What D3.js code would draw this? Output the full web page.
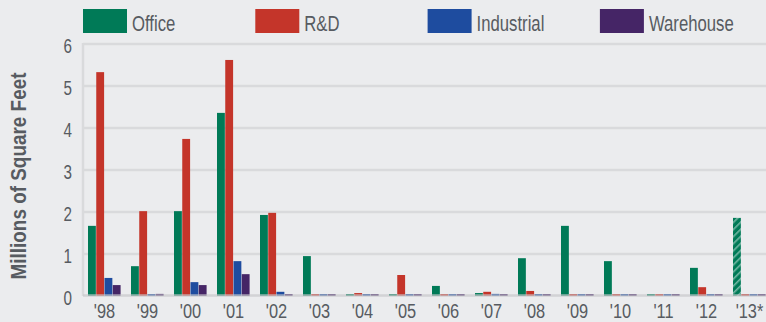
<!DOCTYPE html>
<html>
<head>
<meta charset="utf-8">
<script src="https://cdn.jsdelivr.net/npm/d3@7/dist/d3.min.js"></script>
<style>
  html, body { margin: 0; padding: 0; background: #ebecee; }
  svg { display: block; }
  text { font-family: "Liberation Sans", Arial, sans-serif; fill: #575b61; }
</style>
</head>
<body>
<svg id="chart" width="766" height="322"></svg>
<script>
// Annual completions by property type, millions of square feet
const years = ["'98", "'99", "'00", "'01", "'02", "'03", "'04", "'05", "'06", "'07", "'08", "'09", "'10", "'11", "'12", "'13*"];
const seriesNames = ["Office", "R&D", "Industrial", "Warehouse"];
const office     = [1.67, 0.71, 2.02, 4.36, 1.93, 0.95, 0.02, 0.02, 0.24, 0.07, 0.90, 1.67, 0.83, 0, 0.67, 1.86];
const rd         = [5.33, 2.02, 3.74, 5.62, 1.98, 0, 0.07, 0.50, 0, 0.10, 0.12, 0, 0, 0, 0.21, 0];
const industrial = [0.43, 0.03, 0.33, 0.83, 0.10, 0.02, 0, 0, 0, 0.05, 0, 0, 0, 0, 0, 0];
const warehouse  = [0.26, 0.05, 0.26, 0.52, 0, 0, 0, 0, 0, 0, 0, 0, 0, 0, 0, 0];
const projectedYears = ["'13*"];
const yTicks = [0, 1, 2, 3, 4, 5, 6];

const colors = ["#007a57", "#c4352a", "#1e4c9f", "#452566"];
const series = [office, rd, industrial, warehouse];

const svg = d3.select("#chart");
const W = 766, H = 322;
const plotLeft = 83, plotTop = 44, plotBottom = 296;

// horizontal squeeze that gives the condensed lettering
const narrowText = 0.76, narrowTick = 0.78, narrowTitle = 0.86;

const step = 43;
const x = d3.scaleBand()
  .domain(years)
  .range([plotLeft, plotLeft + years.length * step])
  .paddingInner(0.2326)
  .paddingOuter(0.1163);
const xi = d3.scaleBand()
  .domain(seriesNames)
  .range([0, x.bandwidth()]);
const y = d3.scaleLinear().domain([0, 6]).range([plotBottom, plotTop]);

// hatch pattern for the projected year
const defs = svg.append("defs");
const pat = defs.append("pattern")
  .attr("id", "hatch")
  .attr("patternUnits", "userSpaceOnUse")
  .attr("width", 5).attr("height", 5)
  .attr("patternTransform", "rotate(-45)");
pat.append("rect").attr("width", 5).attr("height", 5).attr("fill", colors[0]);
pat.append("rect").attr("width", 5).attr("height", 1.6).attr("fill", "rgba(255,255,255,0.45)");

// grid
svg.append("g")
  .selectAll("line")
  .data(yTicks.filter(d => d > 0))
  .join("line")
  .attr("x1", plotLeft).attr("x2", W)
  .attr("y1", d => y(d)).attr("y2", d => y(d))
  .attr("stroke", "#d9dadc")
  .attr("stroke-width", 2.5);

svg.append("line")
  .attr("x1", plotLeft).attr("x2", plotLeft)
  .attr("y1", y(6) - 1).attr("y2", plotBottom)
  .attr("stroke", "#d9dadc")
  .attr("stroke-width", 2.5);

// bars
const rows = [];
years.forEach((yr, i) => {
  seriesNames.forEach((s, j) => {
    rows.push({ year: yr, series: s, j, value: series[j][i] });
  });
});

svg.append("g")
  .selectAll("rect")
  .data(rows)
  .join("rect")
  .attr("x", d => x(d.year) + xi(d.series))
  .attr("width", xi.bandwidth() - 0.4)
  .attr("y", d => Math.min(y(d.value), plotBottom - 2))
  .attr("height", d => Math.max(plotBottom - y(d.value), 2))
  .attr("fill", d => (projectedYears.includes(d.year) && d.j === 0) ? "url(#hatch)" : colors[d.j]);

// baseline drawn over the stubs of zero-value bars
svg.append("line")
  .attr("x1", plotLeft).attr("x2", W)
  .attr("y1", plotBottom - 0.5).attr("y2", plotBottom - 0.5)
  .attr("stroke", "rgba(200,201,204,0.72)")
  .attr("stroke-width", 2.5);

// y axis
const yPad = 11;
const yAxis = svg.append("g")
  .attr("transform", `translate(${plotLeft},0)`)
  .call(d3.axisLeft(y).tickValues(yTicks).tickSize(0).tickPadding(yPad).tickFormat(d3.format("d")));
yAxis.select(".domain").remove();
yAxis.selectAll("text")
  .style("font-size", "19.5px")
  .style("fill", "#575b61")
  .attr("x", -yPad / narrowTick)
  .attr("transform", `scale(${narrowTick},1)`)
  .attr("dy", "0.45em");

// x axis
const xAxis = svg.append("g")
  .attr("transform", `translate(0,${plotBottom})`)
  .call(d3.axisBottom(x).tickSize(0).tickPadding(7));
xAxis.select(".domain").remove();
xAxis.selectAll("text")
  .style("font-size", "21px")
  .style("fill", "#575b61")
  .attr("transform", `scale(${narrowTick},1)`)
  .attr("dy", "0.71em");

// axis title
svg.append("text")
  .attr("transform", `translate(26,176) rotate(-90) scale(${narrowTitle},1)`)
  .attr("text-anchor", "middle")
  .style("font-size", "22px")
  .style("font-weight", "bold")
  .text("Millions of Square Feet");

// legend
const legend = svg.append("g")
  .selectAll("g")
  .data(seriesNames)
  .join("g")
  .attr("transform", (d, i) => `translate(${83 + i * 172.3},9)`);
legend.append("rect")
  .attr("width", 44).attr("height", 24)
  .attr("fill", (d, i) => colors[i]);
legend.append("text")
  .attr("x", 49 / narrowText).attr("y", 22)
  .attr("transform", `scale(${narrowText},1)`)
  .style("font-size", "22px")
  .text(d => d);
</script>
</body>
</html>
